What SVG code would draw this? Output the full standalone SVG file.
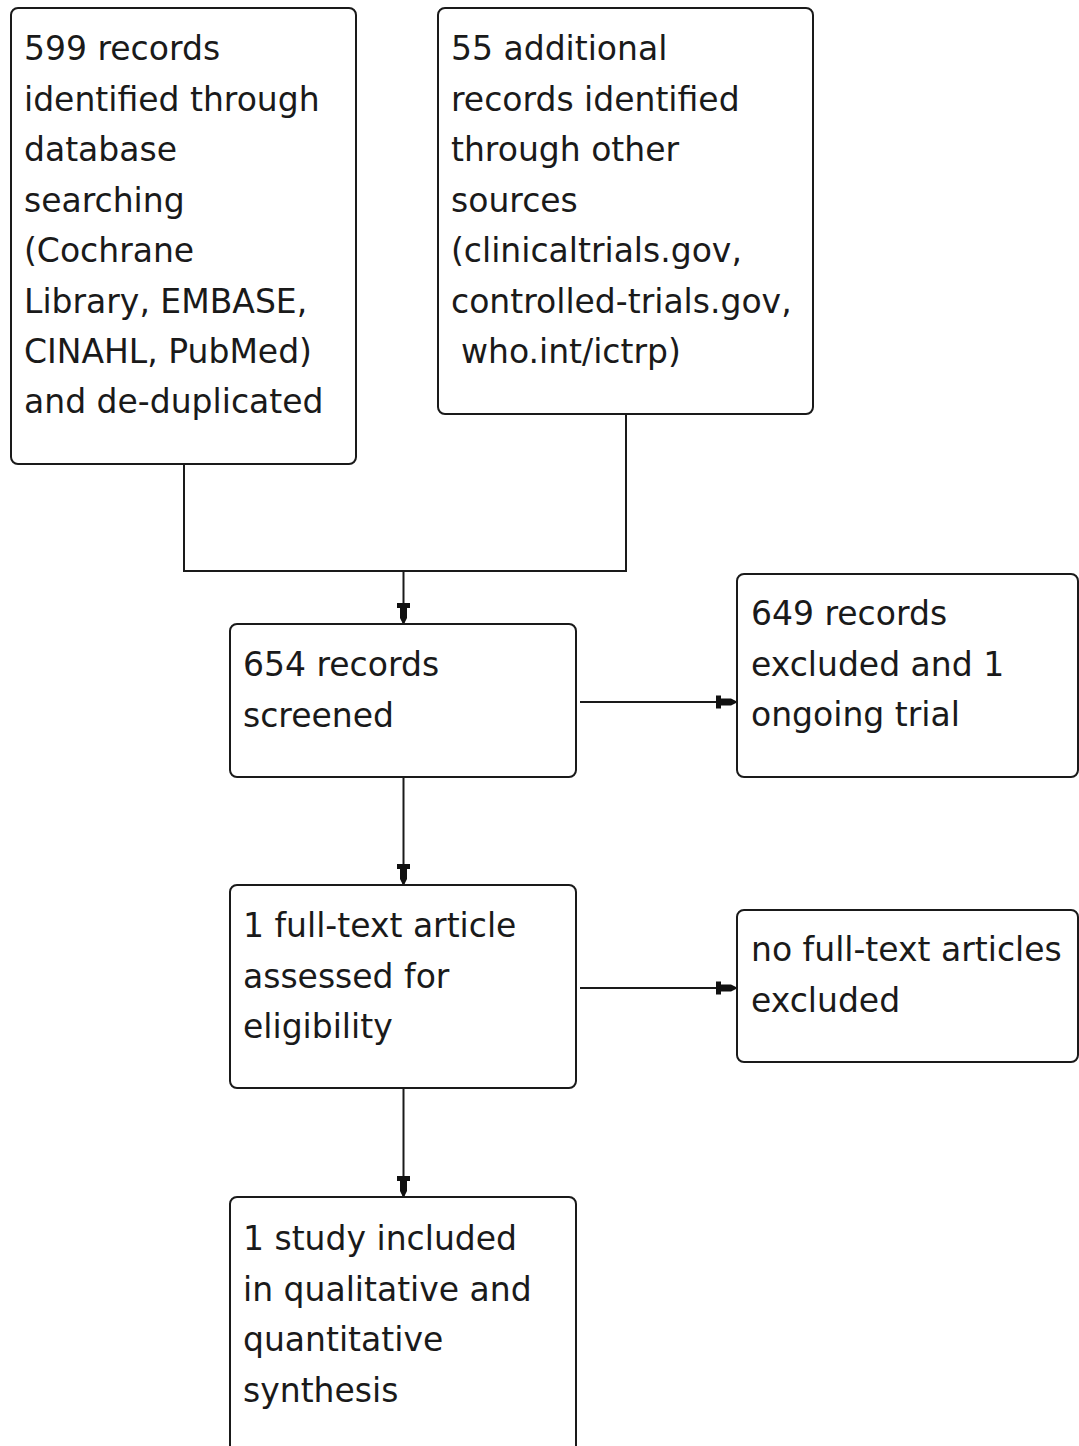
<svg xmlns="http://www.w3.org/2000/svg" width="1079" height="1446" viewBox="0 0 1079 1446">
<style>
.box{fill:#fff;stroke:#1a1a1a;stroke-width:2}
.t{font-family:"DejaVu Sans","Verdana",sans-serif;font-size:33px;fill:#1a1a1a}
.c{fill:none;stroke:#1a1a1a;stroke-width:2}
</style>
<defs>
<marker id="ah" markerUnits="userSpaceOnUse" viewBox="-21 -8 22 16" refX="0" refY="0" markerWidth="22" markerHeight="16" orient="auto">
<path d="M-20,-6.5 V6.5 H-15 V3.5 H-5 L0,1 V-1 L-5,-3.5 H-15 V-6.5 Z" fill="#111"/>
</marker>
</defs>
<rect width="1079" height="1446" fill="#fff"/>
<g id="connectors">
<path class="c" d="M184,465 V571 H626 V414"/>
<path class="c" d="M403.5,571 V623" marker-end="url(#ah)"/>
<path class="c" d="M580,702 H736" marker-end="url(#ah)"/>
<path class="c" d="M403.5,777 V884" marker-end="url(#ah)"/>
<path class="c" d="M580,988 H736" marker-end="url(#ah)"/>
<path class="c" d="M403.5,1088 V1196" marker-end="url(#ah)"/>
</g>
<g id="n1">
<rect class="box" x="11" y="8" width="345" height="456" rx="7"/>
<text class="t" x="24" y="60">599 records</text>
<text class="t" x="24" y="110.5">identified through</text>
<text class="t" x="24" y="161">database</text>
<text class="t" x="24" y="211.5">searching</text>
<text class="t" x="24" y="262">(Cochrane</text>
<text class="t" x="24" y="312.5">Library, EMBASE,</text>
<text class="t" x="24" y="363">CINAHL, PubMed)</text>
<text class="t" x="24" y="413">and de-duplicated</text>
</g>
<g id="n2">
<rect class="box" x="438" y="8" width="375" height="406" rx="7"/>
<text class="t" x="451" y="60">55 additional</text>
<text class="t" x="451" y="110.5">records identified</text>
<text class="t" x="451" y="161">through other</text>
<text class="t" x="451" y="211.5">sources</text>
<text class="t" x="451" y="262">(clinicaltrials.gov,</text>
<text class="t" x="451" y="312.5">controlled-trials.gov,</text>
<text class="t" x="461" y="363">who.int/ictrp)</text>
</g>
<g id="n3">
<rect class="box" x="230" y="624" width="346" height="153" rx="7"/>
<text class="t" x="243" y="676">654 records</text>
<text class="t" x="243" y="726.5">screened</text>
</g>
<g id="n4">
<rect class="box" x="737" y="574" width="341" height="203" rx="7"/>
<text class="t" x="751" y="625">649 records</text>
<text class="t" x="751" y="675.5">excluded and 1</text>
<text class="t" x="751" y="726">ongoing trial</text>
</g>
<g id="n5">
<rect class="box" x="230" y="885" width="346" height="203" rx="7"/>
<text class="t" x="243" y="937">1 full-text article</text>
<text class="t" x="243" y="987.5">assessed for</text>
<text class="t" x="243" y="1038">eligibility</text>
</g>
<g id="n6">
<rect class="box" x="737" y="910" width="341" height="152" rx="7"/>
<text class="t" x="751" y="961">no full-text articles</text>
<text class="t" x="751" y="1011.5">excluded</text>
</g>
<g id="n7">
<rect class="box" x="230" y="1197" width="346" height="280" rx="7"/>
<text class="t" x="243" y="1250">1 study included</text>
<text class="t" x="243" y="1300.5">in qualitative and</text>
<text class="t" x="243" y="1351">quantitative</text>
<text class="t" x="243" y="1401.5">synthesis</text>
</g>
</svg>
